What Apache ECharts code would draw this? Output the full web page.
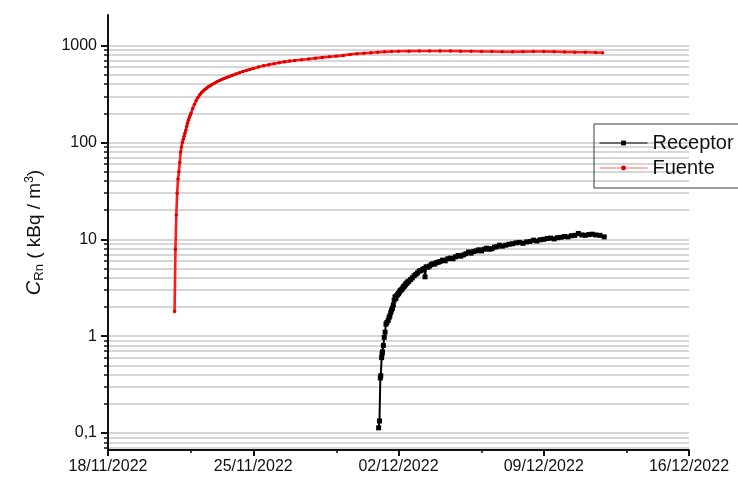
<!DOCTYPE html>
<html>
<head>
<meta charset="utf-8">
<script src="https://cdn.jsdelivr.net/npm/echarts@6/dist/echarts.min.js"></script>
<style>
html,body{margin:0;padding:0;background:#fff;}
#chart{width:738px;height:479px;}
</style>
</head>
<body>
<div id="chart"></div>
<script>
// ---- data ----
const fuenteTimes = [
 '2022-11-21 05:00','2022-11-21 06:00','2022-11-21 07:00','2022-11-21 08:00','2022-11-21 09:00','2022-11-21 10:00',
 '2022-11-21 11:00','2022-11-21 12:00','2022-11-21 13:00','2022-11-21 14:00','2022-11-21 15:00','2022-11-21 16:00',
 '2022-11-21 17:00','2022-11-21 18:00','2022-11-21 19:00','2022-11-21 20:00','2022-11-21 21:00','2022-11-21 22:00',
 '2022-11-21 23:00','2022-11-22 00:00','2022-11-22 02:00','2022-11-22 04:00','2022-11-22 06:00','2022-11-22 08:00',
 '2022-11-22 10:00','2022-11-22 12:00','2022-11-22 14:00','2022-11-22 16:00','2022-11-22 18:00','2022-11-22 20:00',
 '2022-11-22 22:00','2022-11-23 00:00','2022-11-23 03:00','2022-11-23 06:00','2022-11-23 09:00','2022-11-23 12:00',
 '2022-11-23 15:00','2022-11-23 18:00','2022-11-23 21:00','2022-11-24 00:00','2022-11-24 04:00','2022-11-24 08:00',
 '2022-11-24 12:00','2022-11-24 16:00','2022-11-24 20:00','2022-11-25 00:00','2022-11-25 06:00','2022-11-25 12:00',
 '2022-11-25 18:00','2022-11-26 00:00','2022-11-26 06:00','2022-11-26 12:00','2022-11-26 18:00','2022-11-27 00:00',
 '2022-11-27 08:00','2022-11-27 16:00','2022-11-28 00:00','2022-11-28 08:00','2022-11-28 16:00','2022-11-29 00:00',
 '2022-11-29 08:00','2022-11-29 16:00','2022-11-30 00:00','2022-11-30 08:00','2022-11-30 16:00','2022-12-01 00:00',
 '2022-12-01 08:00','2022-12-01 16:00','2022-12-02 00:00','2022-12-02 12:00','2022-12-03 00:00','2022-12-03 12:00',
 '2022-12-04 00:00','2022-12-04 12:00','2022-12-05 00:00','2022-12-05 12:00','2022-12-06 00:00','2022-12-06 12:00',
 '2022-12-07 00:00','2022-12-07 12:00','2022-12-08 00:00','2022-12-08 12:00','2022-12-09 00:00','2022-12-09 12:00',
 '2022-12-10 00:00','2022-12-10 12:00','2022-12-11 00:00','2022-12-11 12:00','2022-12-11 20:00'
];
const fuenteValues = [
 1.8, 7.9, 17.8, 30, 42, 50,
 62, 80, 90, 100, 108, 116,
 125, 134, 146, 158, 170, 180,
 190, 200, 225, 248, 272, 292,
 310, 326, 340, 352, 364, 376,
 386, 395, 410, 424, 438, 450,
 461, 472, 484, 495, 510, 525,
 542, 556, 569, 581, 601, 621,
 637, 652, 666, 681, 693, 704,
 717, 729, 744, 757, 769, 781,
 794, 813, 827, 837, 847, 856,
 864, 870, 875, 878, 880, 882,
 880, 883, 878, 875, 872, 870,
 866, 864, 868, 870, 872, 868,
 862, 858, 855, 850, 845
];
const receptorTimes = [
 '2022-12-01 01:00','2022-12-01 02:00','2022-12-01 03:00','2022-12-01 03:30','2022-12-01 04:30','2022-12-01 05:00',
 '2022-12-01 05:30','2022-12-01 06:30','2022-12-01 07:30','2022-12-01 08:30','2022-12-01 09:30','2022-12-01 10:30',
 '2022-12-01 12:00','2022-12-01 13:00','2022-12-01 14:00','2022-12-01 15:00','2022-12-01 16:00','2022-12-01 17:00',
 '2022-12-01 18:00','2022-12-01 19:00','2022-12-01 20:00','2022-12-01 21:00','2022-12-01 22:00','2022-12-01 23:00',
 '2022-12-02 00:00','2022-12-02 01:00','2022-12-02 02:00','2022-12-02 03:00','2022-12-02 04:00','2022-12-02 05:00',
 '2022-12-02 06:00','2022-12-02 07:00','2022-12-02 08:00','2022-12-02 09:00','2022-12-02 10:00','2022-12-02 11:00',
 '2022-12-02 12:00','2022-12-02 14:00','2022-12-02 16:00','2022-12-02 18:00','2022-12-02 20:00','2022-12-02 22:00',
 '2022-12-03 00:00','2022-12-03 02:00','2022-12-03 04:00','2022-12-03 06:00','2022-12-03 06:40','2022-12-03 08:00',
 '2022-12-03 10:00','2022-12-03 12:00','2022-12-03 14:00','2022-12-03 16:00','2022-12-03 18:00','2022-12-03 20:00',
 '2022-12-03 22:00','2022-12-04 00:00','2022-12-04 03:00','2022-12-04 06:00','2022-12-04 09:00','2022-12-04 12:00',
 '2022-12-04 15:00','2022-12-04 18:00','2022-12-04 21:00','2022-12-05 00:00','2022-12-05 03:00','2022-12-05 06:00',
 '2022-12-05 09:00','2022-12-05 12:00','2022-12-05 15:00','2022-12-05 18:00','2022-12-05 21:00','2022-12-06 00:00',
 '2022-12-06 03:00','2022-12-06 06:00','2022-12-06 09:00','2022-12-06 12:00','2022-12-06 15:00','2022-12-06 18:00',
 '2022-12-06 21:00','2022-12-07 00:00','2022-12-07 04:00','2022-12-07 08:00','2022-12-07 12:00','2022-12-07 16:00',
 '2022-12-07 20:00','2022-12-08 00:00','2022-12-08 04:00','2022-12-08 08:00','2022-12-08 12:00','2022-12-08 16:00',
 '2022-12-08 20:00','2022-12-09 00:00','2022-12-09 04:00','2022-12-09 08:00','2022-12-09 12:00','2022-12-09 16:00',
 '2022-12-09 20:00','2022-12-10 00:00','2022-12-10 04:00','2022-12-10 08:00','2022-12-10 12:00','2022-12-10 16:00',
 '2022-12-10 20:00','2022-12-11 00:00','2022-12-11 04:00','2022-12-11 08:00','2022-12-11 12:00','2022-12-11 17:00',
 '2022-12-11 22:00'
];
const receptorValues = [
 0.113, 0.133, 0.37, 0.39, 0.60, 0.66,
 0.69, 0.80, 0.97, 1.1, 1.33, 1.38,
 1.45, 1.55, 1.62, 1.75, 1.86, 1.95,
 2.1, 2.35, 2.55, 2.45, 2.62, 2.7,
 2.75, 2.85, 2.95, 3.0, 3.05, 3.15,
 3.25, 3.3, 3.4, 3.5, 3.55, 3.65,
 3.7, 3.85, 4.0, 4.2, 4.35, 4.5,
 4.7, 4.75, 4.9, 5.0, 4.1, 5.2,
 5.15, 5.3, 5.5, 5.6, 5.55, 5.75,
 5.8, 5.9, 6.1, 6.0, 6.3, 6.4,
 6.3, 6.6, 6.8, 6.7, 6.9, 7.1,
 7.4, 7.2, 7.5, 7.6, 7.8, 7.6,
 7.9, 8.1, 7.9, 8.0, 8.3, 8.4,
 8.7, 8.5, 8.7, 8.9, 9.0, 9.2,
 9.3, 9.1, 9.4, 9.5, 9.8, 9.6,
 9.9, 10.0, 10.2, 10.3, 10.1, 10.4,
 10.5, 10.7, 10.6, 10.9, 11.0, 11.5,
 11.1, 11.0, 11.2, 11.3, 11.1, 11.0,
 10.6
];
const xTickLabels = ['2022-11-18','2022-11-25','2022-12-02','2022-12-09','2022-12-16'];
const xMinorTicks = ['2022-11-22','2022-11-29','2022-12-06','2022-12-13'];
const yTickLabels = [0.1, 1, 10, 100, 1000];
const yMinorTicks = [0.07,0.08,0.09, 0.2,0.3,0.4,0.5,0.6,0.7,0.8,0.9,
                     2,3,4,5,6,7,8,9, 20,30,40,50,60,70,80,90,
                     200,300,400,500,600,700,800,900];

// ---- helpers ----
function toMs(s) {
  const parts = s.split(' ');
  const d = parts[0].split('-').map(Number);
  const t = (parts[1] || '00:00').split(':').map(Number);
  return Date.UTC(d[0], d[1] - 1, d[2], t[0], t[1]);
}
function pad(n) { return (n < 10 ? '0' : '') + n; }
function fmtDate(v) {
  const d = new Date(v);
  return pad(d.getUTCDate()) + '/' + pad(d.getUTCMonth() + 1) + '/' + d.getUTCFullYear();
}
const fuenteData = fuenteTimes.map((t, i) => [toMs(t), fuenteValues[i]]);
const receptorData = receptorTimes.map((t, i) => [toMs(t), receptorValues[i]]);
const xMin = toMs(xTickLabels[0]);
const xMax = toMs(xTickLabels[xTickLabels.length - 1]);
const yMin = 0.0667, yMax = 2075;
const FONT = '"Liberation Sans", Arial, sans-serif';

const chart = echarts.init(document.getElementById('chart'), null, {renderer: 'canvas'});
chart.setOption({
  animation: false,
  backgroundColor: '#ffffff',
  textStyle: {fontFamily: FONT},
  grid: {left: 108, right: 49, top: 15, bottom: 29},
  legend: {
    orient: 'vertical',
    left: 594, top: 124,
    padding: [8, 14, 9, 5],
    itemGap: 3,
    itemWidth: 48, itemHeight: 6,
    borderColor: '#3a3a3a', borderWidth: 1,
    textStyle: {fontFamily: FONT, fontSize: 20, color: '#111', lineHeight: 22},
    data: [
      {name: 'Receptor', lineStyle: {width: 1, color: '#000'}, itemStyle: {color: '#000'}},
      {name: 'Fuente', lineStyle: {width: 1, color: '#f26a6a'}, itemStyle: {color: '#d00000'}}
    ]
  },
  xAxis: [{
    type: 'value', min: xMin, max: xMax, position: 'bottom',
    axisLine: {show: true, lineStyle: {color: '#111', width: 2}},
    axisTick: {show: true, inside: false, length: 6, lineStyle: {color: '#111', width: 2},
               customValues: xTickLabels.map(toMs)},
    axisLabel: {show: true, customValues: xTickLabels.map(toMs), formatter: fmtDate,
                fontFamily: FONT, fontSize: 16, color: '#111', margin: 9},
    splitLine: {show: false}
  }, {
    type: 'value', min: xMin, max: xMax, position: 'bottom', offset: 0,
    axisLine: {show: false},
    axisTick: {show: true, inside: false, length: 3, lineStyle: {color: '#111', width: 1.5},
               customValues: xMinorTicks.map(toMs)},
    axisLabel: {show: false},
    splitLine: {show: false}
  }],
  yAxis: [{
    type: 'log', logBase: 10, min: yMin, max: yMax, position: 'left',
    name: '{i|C}{sub|Rn}{n| ( kBq / m}{sup|3}{n|)}',
    nameLocation: 'middle', nameGap: 62, nameRotate: 90,
    nameTextStyle: {
      rich: {
        i: {fontFamily: FONT, fontSize: 20, fontStyle: 'italic', color: '#111'},
        sub: {fontFamily: FONT, fontSize: 13, color: '#111', padding: [10, 0, 0, 0]},
        n: {fontFamily: FONT, fontSize: 19, color: '#111'},
        sup: {fontFamily: FONT, fontSize: 12, color: '#111', padding: [0, 0, 10, 0]}
      }
    },
    axisLine: {show: true, lineStyle: {color: '#111', width: 2}},
    axisTick: {show: true, inside: false, length: 7, lineStyle: {color: '#111', width: 2},
               customValues: yTickLabels},
    axisLabel: {show: true, customValues: yTickLabels,
                formatter: v => String(v).replace('.', ','),
                fontFamily: FONT, fontSize: 16, color: '#111', margin: 11},
    splitLine: {show: true, lineStyle: {color: '#c8c8c8', width: 1.5}}
  }, {
    type: 'log', logBase: 10, min: yMin, max: yMax, position: 'left', offset: 0,
    axisLine: {show: false},
    axisTick: {show: true, inside: false, length: 4, lineStyle: {color: '#111', width: 1.5},
               customValues: yMinorTicks},
    axisLabel: {show: false},
    splitLine: {show: true, lineStyle: {color: '#c8c8c8', width: 1.5}}
  }],
  series: [{
    name: 'Receptor', type: 'line', xAxisIndex: 0, yAxisIndex: 0,
    data: receptorData,
    symbol: 'rect', symbolSize: 5, showAllSymbol: true,
    lineStyle: {color: '#000', width: 2},
    itemStyle: {color: '#000'},
    z: 3
  }, {
    name: 'Fuente', type: 'line', xAxisIndex: 0, yAxisIndex: 0,
    data: fuenteData,
    symbol: 'circle', symbolSize: 3.5, showAllSymbol: true,
    lineStyle: {color: '#ff1a1a', width: 2.6},
    itemStyle: {color: '#e00000'},
    z: 3
  }]
});
</script>
</body>
</html>
